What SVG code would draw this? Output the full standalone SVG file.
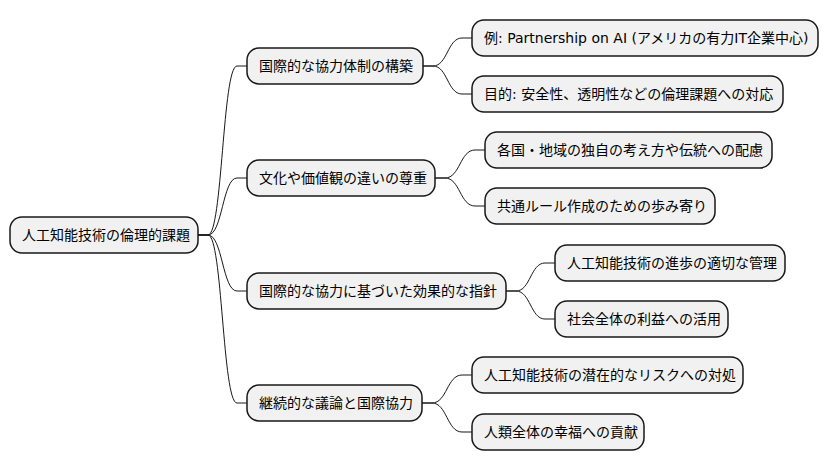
<svg xmlns="http://www.w3.org/2000/svg" width="828" height="471" viewBox="0 0 828 471">
<style>
.n rect{fill:#F1F1F1;stroke:#181818;stroke-width:1.5}
.n text{font-family:"DejaVu Sans","Noto Sans CJK JP",sans-serif;font-size:14px;fill:#000}
.c path{fill:none;stroke:#181818;stroke-width:1}
</style>
<rect width="828" height="471" fill="#fff"/>
<g class="c">
<path d="M198,235 L208,235 C222.5,235 222.5,66 237,66 L247,66"/>
<path d="M198,235 L208,235 C222.5,235 222.5,178 237,178 L247,178"/>
<path d="M198,235 L208,235 C222.5,235 222.5,291 237,291 L247,291"/>
<path d="M198,235 L208,235 C222.5,235 222.5,403 237,403 L247,403"/>
<path d="M423,66 L433,66 C447.5,66 447.5,38 462,38 L472,38"/>
<path d="M423,66 L433,66 C447.5,66 447.5,94 462,94 L472,94"/>
<path d="M435,178 L445,178 C460,178 460,150 475,150 L485,150"/>
<path d="M435,178 L445,178 C460,178 460,206 475,206 L485,206"/>
<path d="M506,291 L516,291 C530.5,291 530.5,263 545,263 L555,263"/>
<path d="M506,291 L516,291 C530.5,291 530.5,319 545,319 L555,319"/>
<path d="M422,403 L432,403 C447,403 447,375 462,375 L472,375"/>
<path d="M422,403 L432,403 C447,403 447,432 462,432 L472,432"/>
</g>
<g id="root" class="n"><rect x="10" y="217" width="188" height="36" rx="12"/><text x="22" y="240">人工知能技術の倫理的課題</text></g>
<g id="a" class="n"><rect x="247" y="48" width="176" height="36" rx="12"/><text x="259" y="71">国際的な協力体制の構築</text></g>
<g id="a1" class="n"><rect x="472" y="20" width="346" height="36" rx="12"/><text x="484" y="43">例: Partnership on AI (アメリカの有力IT企業中心)</text></g>
<g id="a2" class="n"><rect x="472" y="76" width="311" height="36" rx="12"/><text x="484" y="99">目的: 安全性、透明性などの倫理課題への対応</text></g>
<g id="b" class="n"><rect x="247" y="160" width="188" height="36" rx="12"/><text x="259" y="183">文化や価値観の違いの尊重</text></g>
<g id="b1" class="n"><rect x="485" y="132" width="287" height="36" rx="12"/><text x="497" y="155">各国・地域の独自の考え方や伝統への配慮</text></g>
<g id="b2" class="n"><rect x="485" y="188" width="230" height="36" rx="12"/><text x="497" y="211">共通ルール作成のための歩み寄り</text></g>
<g id="c" class="n"><rect x="247" y="273" width="259" height="36" rx="12"/><text x="259" y="296">国際的な協力に基づいた効果的な指針</text></g>
<g id="c1" class="n"><rect x="555" y="245" width="230" height="36" rx="12"/><text x="567" y="268">人工知能技術の進歩の適切な管理</text></g>
<g id="c2" class="n"><rect x="555" y="301" width="173" height="36" rx="12"/><text x="567" y="324">社会全体の利益への活用</text></g>
<g id="d" class="n"><rect x="247" y="385" width="175" height="36" rx="12"/><text x="259" y="408">継続的な議論と国際協力</text></g>
<g id="d1" class="n"><rect x="472" y="357" width="271" height="36" rx="12"/><text x="484" y="380">人工知能技術の潜在的なリスクへの対処</text></g>
<g id="d2" class="n"><rect x="472" y="414" width="172" height="36" rx="12"/><text x="484" y="437">人類全体の幸福への貢献</text></g>
</svg>
